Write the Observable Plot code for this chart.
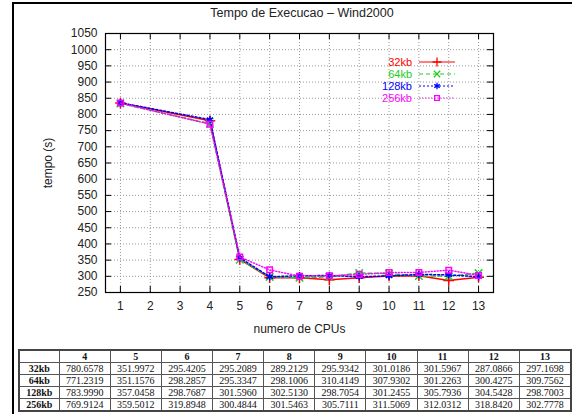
<!DOCTYPE html>
<html>
<head>
<meta charset="utf-8">
<script src="https://cdn.jsdelivr.net/npm/d3@7"></script>
<script src="https://cdn.jsdelivr.net/npm/@observablehq/plot@0.6"></script>
<style>
  html, body { margin: 0; padding: 0; background: #fff; }
  #wrap { position: relative; width: 572px; height: 414px; overflow: hidden; font-family: "Liberation Sans", Arial, sans-serif; }
  #border { position: absolute; left: 12px; top: 2px; width: 600px; height: 420px; border-left: 2px solid #000; border-top: 2px solid #000; }
  #title { position: absolute; left: 0; width: 604px; top: 6px; text-align: center; font-size: 12.5px; color: #222; }
  #chart { position: absolute; left: 0; top: 0; }
  #tbl { position: absolute; left: 18px; top: 349px; border-collapse: collapse; font-family: "Liberation Serif", "Times New Roman", serif; font-size: 10px; table-layout: fixed; border: 2px solid #444; }
  #tbl td, #tbl th { border: 1px solid #555; padding: 0; height: 11px; line-height: 11px; text-align: center; color: #111; }
  #tbl th { font-weight: bold; }
  #tbl td.lab { font-weight: bold; width: 39px; }
  #tbl td.v, #tbl th.c { width: 50.5px; }
</style>
</head>
<body>
<div id="wrap">
  <div id="border"></div>
  <div id="chart"></div>
  <div id="title">Tempo de Execucao – Wind2000</div>
  <table id="tbl"></table>
</div>
<script>
// ---- data ----
const cpus = [1, 4, 5, 6, 7, 8, 9, 10, 11, 12, 13];
const seriesNames = ["32kb", "64kb", "128kb", "256kb"];
const v32  = [835, 780.6578, 351.9972, 295.4205, 295.2089, 289.2129, 295.9342, 301.0186, 301.5967, 287.0866, 297.1698];
const v64  = [834, 771.2319, 351.1576, 298.2857, 295.3347, 298.1006, 310.4149, 307.9302, 301.2263, 300.4275, 309.7562];
const v128 = [836, 783.9990, 357.0458, 298.7687, 301.5960, 302.5130, 298.7054, 301.2455, 305.7936, 304.5428, 298.7003];
const v256 = [835, 769.9124, 359.5012, 319.8948, 300.4844, 301.5463, 305.7111, 311.5069, 312.0312, 318.8420, 302.7778];
const xTicks = [1, 2, 3, 4, 5, 6, 7, 8, 9, 10, 11, 12, 13];
const yTicks = [250, 300, 350, 400, 450, 500, 550, 600, 650, 700, 750, 800, 850, 900, 950, 1000, 1050];
const tableCols = [4, 5, 6, 7, 8, 9, 10, 11, 12, 13];
const tableRowLabels = ["32kb", "64kb", "128kb", "256kb"];

// ---- styles ----
const allValues = [v32, v64, v128, v256];
const colors = ["#ff0000", "#22cc22", "#0000ff", "#ff00ff"];
const dashes = [null, "4,3", "2,2", "1,2"];
const symbols = ["plus", "times", "asterisk", "square2"];

const rows = seriesNames.map((name, i) => cpus.map((c, j) => ({series: name, cpu: c, t: allValues[i][j]})));

const W = 572, H = 345, mL = 105, mR = 79, mT = 33, mB = 53;
const fw = W - mL - mR, fh = H - mT - mB;

const marks = [
  Plot.gridX(xTicks, {stroke: "#999", strokeOpacity: 1, strokeDasharray: "1,2"}),
  Plot.gridY(yTicks, {stroke: "#999", strokeOpacity: 1, strokeDasharray: "1,2"}),
  Plot.tickY(yTicks, {y: d => d, stroke: "#000", insetRight: fw - 6}),
  Plot.tickY(yTicks, {y: d => d, stroke: "#000", insetLeft: fw - 6}),
  Plot.tickX(xTicks, {x: d => d, stroke: "#000", insetTop: fh - 6}),
  Plot.tickX(xTicks, {x: d => d, stroke: "#000", insetBottom: fh - 6}),
  Plot.axisY({ticks: yTicks, tickFormat: d => String(d), tickSize: 0, tickPadding: 8, fontSize: 12, label: "tempo (s)", labelAnchor: "center", labelOffset: 62, labelArrow: "none"}),
  Plot.axisX({ticks: xTicks, tickFormat: d => String(d), tickSize: 0, tickPadding: 9, fontSize: 12, label: "numero de CPUs", labelAnchor: "center", labelOffset: 40, labelArrow: "none"}),
];
rows.forEach((data, i) => {
  marks.push(Plot.line(data, {x: "cpu", y: "t", stroke: colors[i], strokeWidth: 1.5, strokeDasharray: dashes[i]}));
  marks.push(Plot.dot(data, {x: "cpu", y: "t", stroke: colors[i], symbol: symbols[i], r: 3.5, strokeWidth: 1.5}));
});
marks.push(Plot.frame({stroke: "#000", strokeWidth: 1.2}));

const chart = Plot.plot({
  width: W, height: H,
  marginLeft: mL, marginRight: mR, marginTop: mT, marginBottom: mB,
  style: {fontFamily: "'Liberation Sans', Arial, sans-serif", fontSize: "12px", color: "#222", background: "transparent"},
  x: {domain: [0.5, 13.5]},
  y: {domain: [250, 1050]},
  marks
});
document.getElementById("chart").append(chart);

// ---- legend (inside the frame, top right) ----
const svg = d3.select(chart);
const lg = svg.append("g").attr("font-family", "'Liberation Sans', Arial, sans-serif").attr("font-size", 11);
const symMap = {plus: d3.symbolPlus, times: d3.symbolTimes, asterisk: d3.symbolAsterisk, square2: d3.symbolSquare2};
seriesNames.forEach((name, i) => {
  const yy = 62 + i * 12;
  lg.append("text").attr("x", 412).attr("y", yy).attr("dy", "0.35em").attr("text-anchor", "end").attr("fill", colors[i]).text(name);
  lg.append("line").attr("x1", 419).attr("x2", 455).attr("y1", yy).attr("y2", yy)
    .attr("stroke", colors[i]).attr("stroke-width", 1.2).attr("stroke-dasharray", dashes[i]);
  lg.append("path").attr("transform", `translate(437,${yy})`).attr("d", d3.symbol(symMap[symbols[i]], 28)())
    .attr("fill", "none").attr("stroke", colors[i]).attr("stroke-width", 1.3);
});

// ---- table ----
const tbl = d3.select("#tbl");
const head = tbl.append("tr");
head.append("th").attr("class", "lab").style("width", "39px");
tableCols.forEach(c => head.append("th").attr("class", "c").text(c));
tableRowLabels.forEach((lab, i) => {
  const tr = tbl.append("tr");
  tr.append("td").attr("class", "lab").text(lab);
  tableCols.forEach(c => {
    const j = cpus.indexOf(c);
    tr.append("td").attr("class", "v").text(allValues[i][j].toFixed(4));
  });
});
</script>
</body>
</html>
